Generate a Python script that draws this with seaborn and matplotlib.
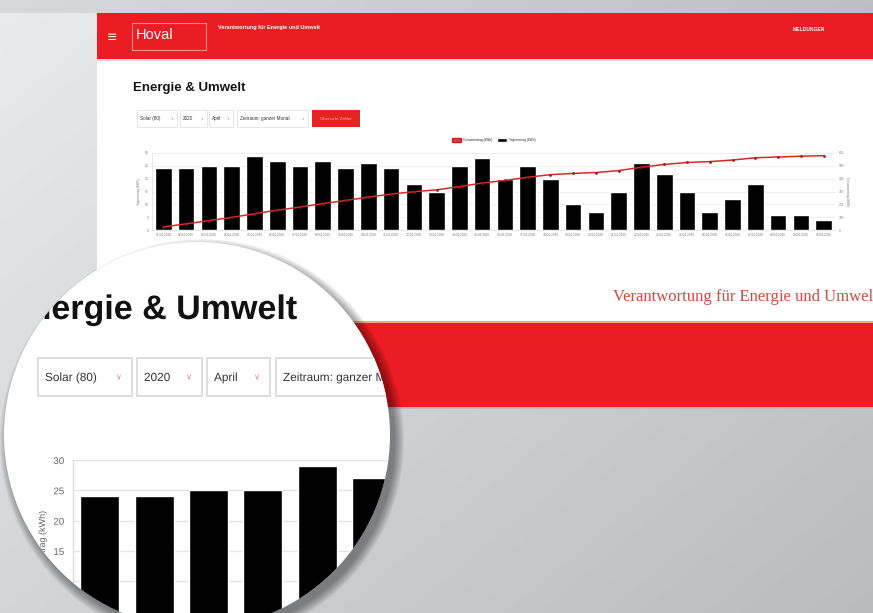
import numpy as np
import pandas as pd
import seaborn as sns
import matplotlib.pyplot as plt
from matplotlib.patches import Rectangle, Circle, Patch
import matplotlib.patheffects as pe

# Daten (April 2020, Solar)
days = list(range(1, 31))
dates = ['%02d.04.2020' % d for d in days]
daily_kwh = [24, 24, 25, 25, 29, 27, 25, 27, 24, 26, 24, 18, 15, 25, 28,
             20, 25, 20, 10, 7, 15, 26, 22, 15, 7, 12, 18, 6, 6, 4]
total_kwh = [24, 48, 73, 98, 127, 154, 179, 206, 230, 256, 280, 298, 313, 338, 366,
             386, 411, 431, 441, 448, 463, 489, 511, 526, 533, 545, 563, 569, 575, 579]
left_ticks = [0, 5, 10, 15, 20, 25, 30]
mag_ticks = [10, 15, 20, 25, 30]
right_ticks = [0, 100, 200, 300, 400, 500, 600]
legend_labels = ['Gesamtertrag (kWh)', 'Tagesertrag (kWh)']
dropdowns = ['Solar (80)', '2020', 'April', 'Zeitraum: ganzer Monat']

df = pd.DataFrame({'tag': days, 'datum': dates, 'tages': daily_kwh, 'gesamt': total_kwh})

sns.set_theme(style='white')
plt.rcParams['font.family'] = ['Liberation Sans', 'DejaVu Sans']

RED = '#ec1c24'
W, H = 873, 613
fig = plt.figure(figsize=(W / 100, H / 100), dpi=100)


def box(x0, y0, x1, y1):
    return [x0 / W, 1 - y1 / H, (x1 - x0) / W, (y1 - y0) / H]


# background + page
bg = fig.add_axes([0, 0, 1, 1], zorder=0)
bg.set_xlim(0, W)
bg.set_ylim(H, 0)
bg.axis('off')
yy, xx = np.mgrid[0:H, 0:W]
v = 236 - 26 * (xx / W) - 22 * (yy / H)
v = v - 18 * (yy < 13)
img = np.dstack([v - 3, v - 1, v + 1]).clip(0, 255) / 255
bg.imshow(img, extent=(0, W, H, 0), aspect='auto', zorder=0)

bg.add_patch(Rectangle((97, 13), W - 97, 394, fc='white', lw=0, zorder=1))
bg.add_patch(Rectangle((97, 13), W - 97, 46, fc=RED, lw=0, zorder=2))
bg.add_patch(Rectangle((97, 59), W - 97, 2, fc='#f3d6d6', lw=0, zorder=2))
bg.text(112, 37, '≡', color='white', fontsize=9, ha='center', va='center', zorder=3,
        family='DejaVu Sans')
bg.add_patch(Rectangle((132, 23), 74, 27, fc='none', ec='#ff8a8a', lw=0.8, zorder=3))
bg.text(136, 35, 'Hoval', color='white', fontsize=10.5, ha='left', va='center', zorder=3)
bg.text(218, 27, 'Verantwortung für Energie und Umwelt', color='white', fontsize=4,
        weight='bold', ha='left', va='center', zorder=3)
bg.text(793, 29.5, 'MELDUNGEN', color='white', fontsize=3.6, weight='bold',
        ha='left', va='center', zorder=3)
bg.text(133, 88, 'Energie & Umwelt', color='#151515', fontsize=9.5, weight='bold',
        ha='left', va='center', zorder=3)

# small dropdowns
for (x0, x1), label in zip([(137, 177), (180, 207), (209, 233), (237, 308)], dropdowns):
    bg.add_patch(Rectangle((x0, 110), x1 - x0, 17, fc='white', ec='#dcdcdc', lw=0.5, zorder=3))
    bg.text(x0 + 3, 118.5, label, fontsize=3.3, color='#333', va='center', zorder=4)
    bg.text(x1 - 5, 118.5, '∨', fontsize=2.6, color='#e07070', va='center', ha='center',
            zorder=4, family='DejaVu Sans')
bg.add_patch(Rectangle((312, 110), 48, 17, fc='#e52320', lw=0, zorder=3))
bg.text(336, 118.5, 'Übersicht Zähler', fontsize=3.2, color='#ffb0b0', ha='center',
        va='center', zorder=4)

# footer
bg.text(613, 297, 'Verantwortung für Energie und Umwelt', color='#cf4a3f', fontsize=12,
        family=['Liberation Serif', 'DejaVu Serif'], ha='left', va='center', zorder=3)
bg.add_patch(Rectangle((97, 321), W - 97, 1.5, fc='#f2a488', lw=0, zorder=3))
bg.add_patch(Rectangle((97, 322.5), W - 97, 84.5, fc=RED, lw=0, zorder=3))
bg.add_patch(Rectangle((97, 407), W - 97, 2, fc='#b9bcbf', lw=0, zorder=3))

# small chart
ax = fig.add_axes(box(152, 153, 835, 230), zorder=1)
sns.barplot(data=df, x='tag', y='tages', native_scale=True, color='black', saturation=1,
            width=0.73, errorbar=None, ax=ax)
ax.set_xlim(0.5, 30.5)
ax.set_ylim(0, 30)
ax.set_yticks(left_ticks)
ax.set_xticks(days, labels=dates)
ax.tick_params(labelsize=2.3, colors='#777', length=0, pad=2.5)
ax.grid(axis='y', color='#e8e8e8', lw=0.5)
ax.set_axisbelow(True)
for s in ['top', 'right']:
    ax.spines[s].set_visible(False)
for s in ['left', 'bottom']:
    ax.spines[s].set_color('#dddddd')
    ax.spines[s].set_linewidth(0.5)
ax.set_xlabel('')
ax.set_ylabel('Tagesertrag (kWh)', fontsize=2.3, color='#777', labelpad=3)
ax.legend(handles=[Patch(fc='#e33b3b', ec='#c22', label=legend_labels[0]),
                   Patch(fc='black', label=legend_labels[1])],
          loc='center', bbox_to_anchor=(0.5, 1 + 13 / 77), ncol=2, frameon=False,
          fontsize=2.3, handlelength=3.0, handleheight=1.3, columnspacing=1.5,
          handletextpad=0.6)

ax2 = ax.twinx()
sns.lineplot(data=df, x='tag', y='gesamt', ax=ax2, color='#d42a2a', lw=1.1, marker='o',
             markersize=2.0, markeredgewidth=0, markerfacecolor='#a01818')
ax2.set_ylim(0, 600)
ax2.set_yticks(right_ticks)
ax2.tick_params(labelsize=2.3, colors='#777', length=0, pad=2.5)
ax2.set_ylabel('Gesamtertrag (kWh)', fontsize=2.3, color='#777', labelpad=4, rotation=270)
for s in ax2.spines.values():
    s.set_visible(False)

# magnifier
cx, cy, r = 197, 435, 193
ov = fig.add_axes([0, 0, 1, 1], zorder=5)
ov.set_xlim(0, W)
ov.set_ylim(H, 0)
ov.axis('off')
ov.patch.set_visible(False)
for k in range(14):
    ov.add_patch(Circle((cx + 5, cy + 6), r + k * 0.7, fc='black', alpha=0.03, lw=0))
ov.add_patch(Circle((cx, cy), r, fc='white', lw=0))
clip = Circle((cx, cy), r, transform=ov.transData)
normal = [pe.Normal()]


def clipped(art):
    art.set_clip_on(True)
    art.set_clip_path(clip)
    if hasattr(art, 'get_text'):
        art.set_path_effects(normal)
    return art


clipped(ov.text(297, 319, 'Energie & Umwelt', ha='right', va='baseline', fontsize=24.5,
                weight='bold', color='#111'))
for (x0, x1), label in zip([(38, 132), (137, 202), (207, 270), (276, 520)], dropdowns):
    clipped(ov.add_patch(Rectangle((x0, 358), x1 - x0, 38, fc='white', ec='#d8d8d8', lw=1.2)))
    clipped(ov.text(x0 + 7, 378, label, fontsize=8.5, color='#333', va='center'))
    if x1 < 300:
        clipped(ov.text(x1 - 13, 377, '∨', fontsize=6, color='#e8868a', va='center',
                        ha='center', family='DejaVu Sans'))

mag = fig.add_axes(box(72.5, 460, 72.5 + 54.4 * 30, 641.8), zorder=6)
mag.patch.set_visible(False)
sns.barplot(data=df, x='tag', y='tages', native_scale=True, color='black', saturation=1,
            width=0.72, errorbar=None, ax=mag)
mag.set_xlim(0.5, 30.5)
mag.set_ylim(0, 30)
mag.set_yticks(mag_ticks)
mag.set_xticks([])
mag.set_xlabel('')
mag.tick_params(labelsize=7, colors='#666', length=0, pad=6)
mag.grid(axis='y', color='#e4e4e4', lw=1)
mag.set_axisbelow(True)
for s in ['top', 'right', 'bottom']:
    mag.spines[s].set_visible(False)
mag.spines['left'].set_color('#dddddd')
mag.spines['left'].set_linewidth(1)
mag.set_ylabel('Tagesertrag (kWh)', fontsize=6.5, color='#666')
mag.yaxis.set_label_coords(-25.5 / 1632, (641.8 - 548) / 181.8)

for p in mag.patches:
    clipped(p)
for s in mag.spines.values():
    clipped(s)
for t in mag.yaxis.get_major_ticks():
    clipped(t.label1)
    clipped(t.gridline)
    clipped(t.tick1line)
clipped(mag.yaxis.label)

fig.savefig('out.png', dpi=100)
